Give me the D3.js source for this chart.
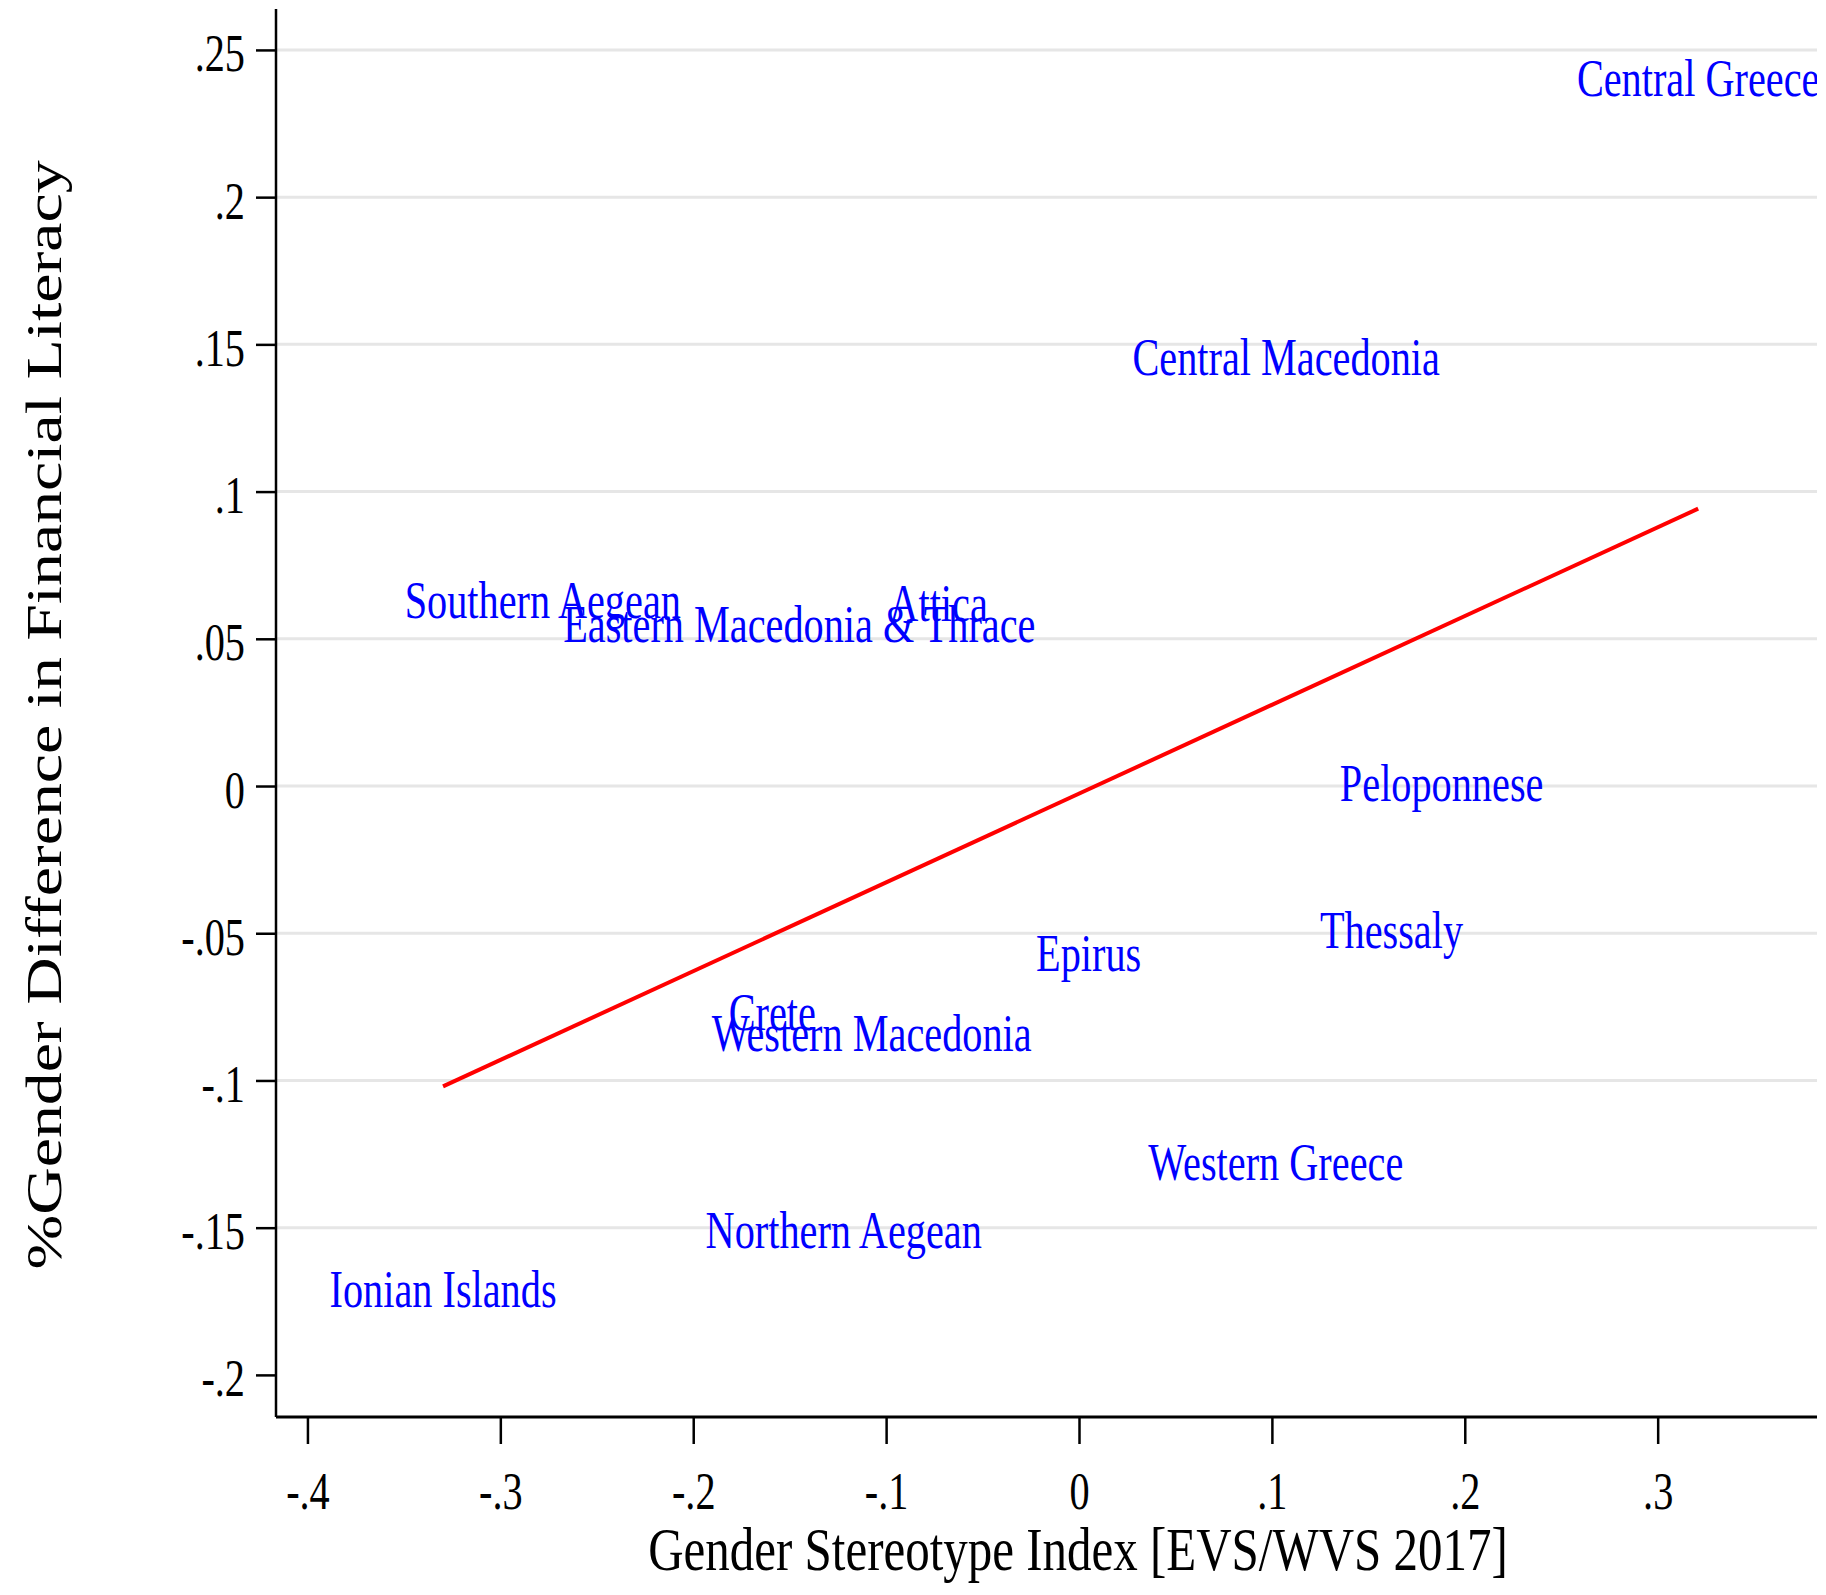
<!DOCTYPE html>
<html>
<head>
<meta charset="utf-8">
<script src="https://cdn.jsdelivr.net/npm/d3@7"></script>
<style>
  body { margin: 0; background: #fff; }
  text { font-family: "Liberation Serif", "Times New Roman", serif; }
</style>
</head>
<body>
<svg id="chart" width="1826" height="1595"></svg>
<script>
// data (labels are centred on the points)
var regions = ["Central Greece", "Central Macedonia", "Southern Aegean", "Attica",
  "Eastern Macedonia & Thrace", "Peloponnese", "Thessaly", "Epirus", "Crete",
  "Western Macedonia", "Western Greece", "Northern Aegean", "Ionian Islands"];
var stereotype = [0.321, 0.1074, -0.278, -0.0728, -0.145, 0.188, 0.162, 0.005,
  -0.159, -0.1075, 0.102, -0.122, -0.3297];
var genderGap = [0.2403, 0.1455, 0.063, 0.062, 0.055, 0.001, -0.049, -0.057,
  -0.077, -0.084, -0.128, -0.151, -0.171];
// fitted line end points
var fitX = [-0.3297, 0.321];
var fitY = [-0.102, 0.0942];
var xTicks = [-0.4, -0.3, -0.2, -0.1, 0, 0.1, 0.2, 0.3];
var yTicks = [-0.2, -0.15, -0.1, -0.05, 0, 0.05, 0.1, 0.15, 0.2, 0.25];

var squeeze = 0.76; // the picture is stretched vertically

var svg = d3.select("#chart");
var plotLeft = 276, plotRight = 1817, plotTop = 9, plotBottom = 1417;

var x = d3.scaleLinear().domain([-0.4163, 0.3826]).range([plotLeft, plotRight]);
var y = d3.scaleLinear().domain([-0.2143, 0.2639]).range([plotBottom, plotTop]);

function fmt(d) {
  if (d === 0) return "0";
  return String(d).replace("0.", ".");
}

// grid lines
svg.append("g")
  .selectAll("line")
  .data(yTicks.filter(function (d) { return d > -0.2; }))
  .enter()
  .append("line")
  .attr("x1", plotLeft)
  .attr("x2", plotRight)
  .attr("y1", function (d) { return y(d); })
  .attr("y2", function (d) { return y(d); })
  .attr("stroke", "#e6e6e6")
  .attr("stroke-width", 3);

// clip for the labels
svg.append("clipPath").attr("id", "plotclip")
  .append("rect")
  .attr("x", plotLeft).attr("y", 0)
  .attr("width", plotRight - plotLeft).attr("height", plotBottom);

// fitted line
svg.append("line")
  .attr("x1", x(fitX[0])).attr("y1", y(fitY[0]))
  .attr("x2", x(fitX[1])).attr("y2", y(fitY[1]))
  .attr("stroke", "#ff0000")
  .attr("stroke-width", 4);

// region labels
svg.append("g")
  .attr("clip-path", "url(#plotclip)")
  .selectAll("text")
  .data(regions)
  .enter()
  .append("text")
  .attr("transform", function (d, i) {
    return "translate(" + x(stereotype[i]) + "," + (y(genderGap[i]) + 17.5) + ") scale(" + squeeze + ",1)";
  })
  .attr("text-anchor", "middle")
  .attr("fill", "#0000ff")
  .style("font-size", "53px")
  .text(function (d) { return d; });

// y axis
var yAxis = svg.append("g")
  .attr("transform", "translate(" + plotLeft + ",0)")
  .call(d3.axisLeft(y).tickValues(yTicks).tickFormat(fmt).tickSize(20).tickSizeOuter(0));
yAxis.select(".domain").attr("stroke", "#000").attr("stroke-width", 2.5)
  .attr("d", "M0," + plotTop + "V" + plotBottom);
yAxis.selectAll(".tick line").attr("stroke", "#000").attr("stroke-width", 2.5);
yAxis.selectAll(".tick text")
  .attr("x", -31 / squeeze)
  .attr("y", 21)
  .attr("dy", null)
  .attr("transform", "scale(" + squeeze + ",1)")
  .attr("fill", "#000")
  .style("font-size", "53px");

// x axis
var xAxis = svg.append("g")
  .attr("transform", "translate(0," + plotBottom + ")")
  .call(d3.axisBottom(x).tickValues(xTicks).tickFormat(fmt).tickSize(27).tickSizeOuter(0));
xAxis.select(".domain").attr("stroke", "#000").attr("stroke-width", 3)
  .attr("d", "M" + plotLeft + ",0H" + plotRight);
xAxis.selectAll(".tick line").attr("stroke", "#000").attr("stroke-width", 2.5);
xAxis.selectAll(".tick text")
  .attr("x", 0)
  .attr("y", 92)
  .attr("dy", null)
  .attr("transform", "scale(" + squeeze + ",1)")
  .attr("fill", "#000")
  .style("font-size", "53px");

// axis titles
svg.append("text")
  .attr("transform", "translate(1078,1570) scale(0.79,1)")
  .attr("text-anchor", "middle")
  .style("font-size", "62px")
  .text("Gender Stereotype Index [EVS/WVS 2017]");

svg.append("text")
  .attr("transform", "translate(61,715) rotate(-90) scale(" + (1 / squeeze) + ",1)")
  .attr("text-anchor", "middle")
  .style("font-size", "50px")
  .text("%Gender Difference in Financial Literacy");
</script>
</body>
</html>
